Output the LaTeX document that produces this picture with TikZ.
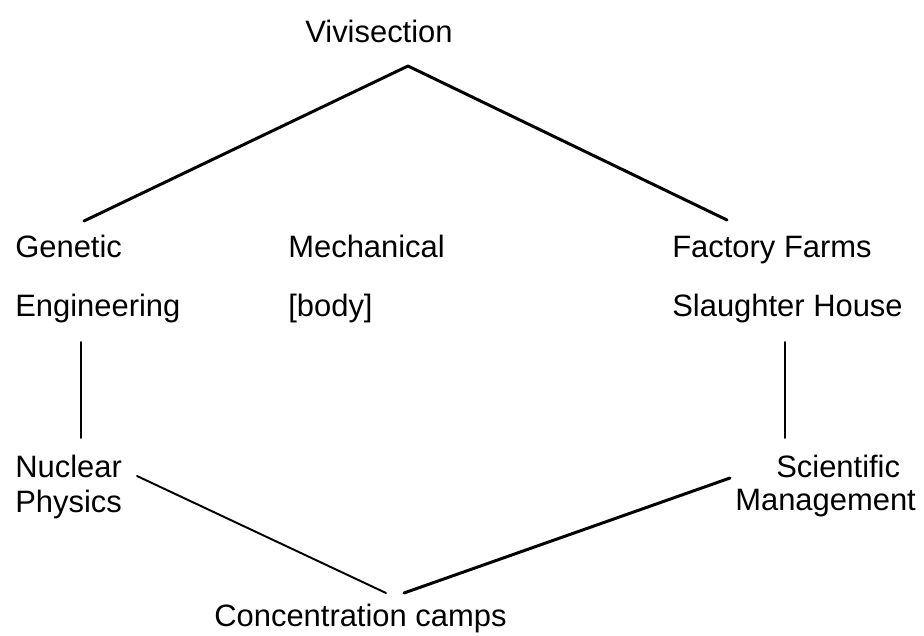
\documentclass[tikz,border=0pt]{standalone}
\usepackage{fontspec}
\setmainfont{Liberation Sans}
\usetikzlibrary{positioning}

\tikzset{
  lbl/.style={anchor=base west, inner sep=0pt, font=\fontsize{17.6}{21}\selectfont},
  link/.style={line width=1.7pt, line cap=round},
  thinlink/.style={line width=1.1pt, line cap=round}
}

\begin{document}
\begin{tikzpicture}[x=0.02cm, y=-0.02cm]
    \useasboundingbox (0,0) rectangle (924,636);
    % labels
    \node[lbl] (viv) at (305,42) {Vivisection};
    \node[lbl] (gen) at (15,257) {Genetic};
    \node[lbl] (eng) at (15,316) {Engineering};
    \node[lbl] (mech) at (288,257) {Mechanical};
    \node[lbl] (body) at (288,316) {[body]};
    \node[lbl] (fac) at (672,257) {Factory Farms};
    \node[lbl] (sla) at (672,316) {Slaughter House};
    \node[lbl] (nuc) at (15,477) {Nuclear};
    \node[lbl] (phy) at (15,512) {Physics};
    \node[lbl] (sci) at (776,477) {Scientific};
    \node[lbl] (man) at (735,510) {Management};
    \node[lbl] (conc) at (214,626) {Concentration camps};
    % line ends
    \coordinate (apex) at (408,66);
    \coordinate (gentop) at (84,221);
    \coordinate (factop) at (727,220);
    \coordinate (engbot) at (81,342);
    \coordinate (nuctop) at (81,438);
    \coordinate (slabot) at (785,342);
    \coordinate (scitop) at (785,438);
    \coordinate (nucend) at (137,476);
    \coordinate (campl) at (386,593);
    \coordinate (campr) at (404,593);
    \coordinate (sciend) at (730,478);
    % hexagon
    \draw[link] (apex) -- (gentop);
    \draw[link] (apex) -- (factop);
    \draw[thinlink] (engbot) -- (nuctop);
    \draw[thinlink] (slabot) -- (scitop);
    \draw[thinlink] (nucend) -- (campl);
    \draw[link] (campr) -- (sciend);
\end{tikzpicture}
\end{document}
